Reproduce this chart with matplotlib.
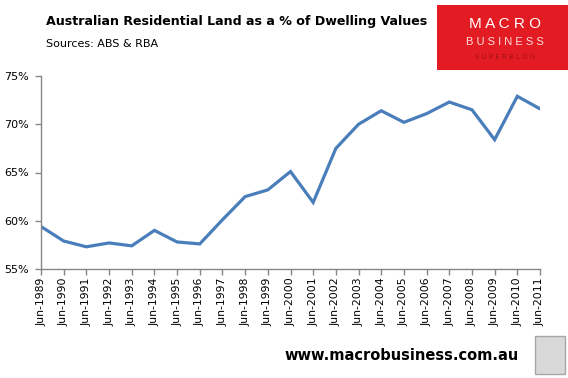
"""Australian residential land as a share of dwelling values (MacroBusiness chart)."""

import matplotlib.pyplot as plt
from matplotlib.patches import Rectangle

plt.rcParams["font.family"] = ["DejaVu Sans"]

years = list(range(1989, 2012))
labels = [f"Jun-{y}" for y in years]
land_share = [
    59.4, 57.9, 57.3, 57.7, 57.4, 59.0, 57.8, 57.6, 60.1, 62.5, 63.2, 65.1,
    61.9, 67.5, 70.0, 71.4, 70.2, 71.1, 72.3, 71.5, 68.4, 72.9, 71.6,
]
y_ticks = [55, 60, 65, 70, 75]

LINE_BLUE = "#4a7ebb"
AXIS_GREY = "#868686"

fig = plt.figure(figsize=(5.68, 3.78), dpi=100)
ax = fig.add_axes([41 / 568, 1 - 269 / 378, (540 - 41) / 568, (269 - 76) / 378])

ax.plot(range(len(years)), land_share, color=LINE_BLUE, linewidth=2.3,
        solid_joinstyle="miter")

ax.set_xlim(0, len(years) - 1)
ax.set_ylim(55, 75)
ax.set_yticks(y_ticks)
ax.set_yticklabels([f"{v}%" for v in y_ticks], fontsize=8)
ax.set_xticks(range(len(years)))
ax.set_xticklabels(labels, rotation=90, fontsize=7.8)

for side in ("top", "right"):
    ax.spines[side].set_visible(False)
for side in ("left", "bottom"):
    ax.spines[side].set_color(AXIS_GREY)
    ax.spines[side].set_linewidth(1.0)
ax.tick_params(axis="both", direction="out", color=AXIS_GREY, length=4,
               width=1.0, pad=2)
ax.tick_params(axis="y", pad=5)

# title block
fig.text(46 / 568, 1 - 21 / 378, "Australian Residential Land as a % of Dwelling Values",
         fontsize=9.1, fontweight="bold", va="center", ha="left")
fig.text(46 / 568, 1 - 44 / 378, "Sources: ABS & RBA", fontsize=8,
         va="center", ha="left")

# logo
fig.patches.append(Rectangle((437 / 568, 1 - 70 / 378), 131 / 568, 65 / 378,
                             transform=fig.transFigure, facecolor="#e31b23",
                             edgecolor="none"))
fig.text(505 / 568, 1 - 24 / 378, "M A C R O", color="white", fontsize=11,
         ha="center", va="center", family=["Liberation Sans"])
fig.text(505 / 568, 1 - 42 / 378, "B U S I N E S S", color="#ffe0e0", fontsize=8,
         ha="center", va="center", family=["Liberation Sans"])
fig.text(505 / 568, 1 - 57 / 378, "S U P E R B L O G", color="#a01015",
         fontsize=5, ha="center", va="center")

# footer
fig.text(519 / 568, 1 - 355 / 378, "www.macrobusiness.com.au", fontsize=10.5,
         fontweight="bold", ha="right", va="center")
fig.patches.append(Rectangle((535 / 568, 1 - 374 / 378), 30 / 568, 38 / 378,
                             transform=fig.transFigure, facecolor="#d9d9d9",
                             edgecolor="#a6a6a6", linewidth=1))

fig.savefig("out.png", dpi=100)
